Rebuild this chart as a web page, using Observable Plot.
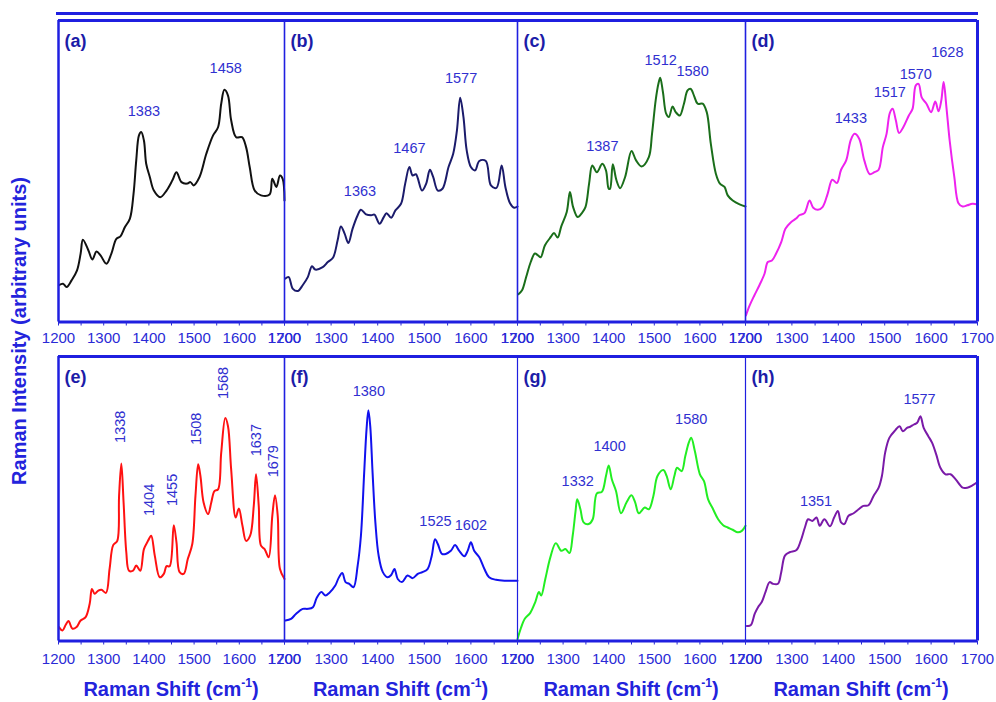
<!DOCTYPE html>
<html>
<head>
<meta charset="utf-8">
<script src="https://cdn.jsdelivr.net/npm/d3@7"></script>
<script src="https://cdn.jsdelivr.net/npm/@observablehq/plot@0.6"></script>
<style>
  body { margin: 0; background: #fff; }
  #fig { position: relative; width: 996px; height: 702px; overflow: hidden; background: #fff;
         font-family: "Liberation Sans", Arial, Helvetica, sans-serif; }
  #fig svg { position: absolute; }
  .xt { position: absolute; top: 677px; width: 240px; margin-left: -120px; text-align: center;
        font-weight: bold; font-size: 20px; line-height: 24px; color: #2323dc; white-space: nowrap; }
  .xt .sup { font-size: 12px; position: relative; top: -9px; }
  .yt { position: absolute; left: 19px; top: 331px; width: 420px; text-align: center;
        font-weight: bold; font-size: 20px; line-height: 24px; color: #2323dc; white-space: nowrap;
        transform: translate(-50%, -50%) rotate(-90deg); }
  .topline { position: absolute; left: 56px; top: 12px; width: 922px; height: 3px; background: #1f1fe0; }
</style>
</head>
<body>
<div id="fig"></div>
<script>
// ---------------- data ----------------
const panelIds = ["a", "b", "c", "d", "e", "f", "g", "h"];
const panelColors = ["#111111", "#1b1b6b", "#1a6e1a", "#ee22ee", "#ff1111", "#1111ee", "#22ee22", "#7a1aa8"];
const xTicks = [1200, 1300, 1400, 1500, 1600, 1700];

// [Raman shift (cm-1), intensity (arbitrary units)]
const spectrumA = [[1201,12.2],[1210,12.7],[1218,11.6],[1229,13.8],[1241,17.1],[1249,22.7],[1254,27.3],[1266,23.8],[1275,20.7],[1284,23.4],[1293,22.1],[1306,19.3],[1317,22.7],[1328,27.6],[1337,28.4],[1347,31.5],[1358,34.3],[1366,42.5],[1372,53.6],[1378,61.9],[1383,63.0],[1389,60.2],[1394,52.5],[1402,48.1],[1411,43.6],[1425,41.4],[1439,43.6],[1452,47.0],[1461,49.7],[1472,46.4],[1484,45.9],[1492,46.4],[1499,45.3],[1512,48.1],[1527,55.8],[1542,61.9],[1553,64.6],[1560,72.4],[1567,77.0],[1575,75.1],[1582,66.9],[1593,61.3],[1606,61.3],[1615,58.0],[1623,51.4],[1634,43.6],[1648,42.0],[1667,42.3],[1673,47.5],[1682,44.8],[1690,48.6],[1696,47.5],[1700,40.3]];
const spectrumB = [[1202,14.4],[1209,14.9],[1218,11.0],[1229,10.3],[1239,12.2],[1250,14.9],[1259,18.5],[1266,17.4],[1282,18.2],[1293,19.9],[1304,21.3],[1314,27.1],[1321,31.7],[1329,29.3],[1337,26.2],[1346,30.9],[1357,35.4],[1364,37.2],[1375,35.7],[1386,35.4],[1393,35.6],[1404,32.6],[1413,34.8],[1419,36.1],[1429,34.6],[1438,37.0],[1450,39.2],[1459,45.9],[1468,51.4],[1475,48.6],[1482,49.0],[1495,43.6],[1504,45.9],[1512,50.5],[1519,48.1],[1529,43.6],[1539,44.2],[1552,51.4],[1562,55.8],[1570,63.5],[1577,74.4],[1584,68.0],[1591,56.9],[1600,51.4],[1609,50.3],[1618,53.4],[1632,53.4],[1643,45.3],[1655,44.5],[1666,51.9],[1674,44.8],[1684,39.4],[1693,37.9],[1700,38.3]];
const spectrumC = [[1202,9.2],[1210,10.5],[1219,14.9],[1229,19.9],[1238,22.7],[1245,22.1],[1251,21.5],[1260,25.4],[1273,28.2],[1280,29.5],[1288,28.0],[1296,31.7],[1308,36.5],[1315,43.1],[1322,38.1],[1332,34.8],[1341,36.1],[1349,38.1],[1357,45.9],[1364,51.9],[1374,49.7],[1386,52.5],[1394,50.3],[1400,44.2],[1403,44.2],[1409,52.3],[1417,47.0],[1425,44.4],[1436,48.1],[1450,56.7],[1460,53.6],[1472,51.6],[1488,54.7],[1495,62.4],[1503,73.5],[1509,79.0],[1513,81.0],[1519,76.2],[1526,69.1],[1532,68.0],[1540,71.5],[1547,69.6],[1556,68.5],[1565,72.4],[1573,76.8],[1580,77.3],[1587,75.1],[1595,72.4],[1606,72.4],[1615,69.6],[1624,59.1],[1635,49.2],[1644,45.9],[1654,44.8],[1661,42.0],[1672,40.3],[1687,39.0],[1700,38.3]];
const spectrumD = [[1201,2.2],[1209,5.5],[1219,8.8],[1230,12.2],[1241,16.0],[1248,19.9],[1257,20.4],[1266,22.7],[1277,26.5],[1286,30.9],[1298,33.1],[1309,34.3],[1316,35.4],[1327,36.1],[1338,40.3],[1346,37.9],[1356,37.2],[1366,38.1],[1377,42.5],[1387,47.2],[1397,46.1],[1406,50.5],[1417,53.6],[1427,60.4],[1435,62.4],[1445,60.8],[1456,53.6],[1468,49.0],[1478,49.7],[1487,50.5],[1496,58.0],[1504,62.4],[1511,69.3],[1517,70.7],[1524,66.9],[1531,62.7],[1540,64.6],[1552,68.5],[1560,70.7],[1567,78.5],[1573,79.0],[1580,74.4],[1590,72.4],[1600,69.6],[1609,73.1],[1616,69.9],[1622,73.5],[1627,79.6],[1633,71.3],[1640,60.2],[1650,48.1],[1659,39.4],[1668,38.3],[1678,38.7],[1689,39.2],[1700,39.0]];
const spectrumE = [[1201,4.9],[1209,3.7],[1216,5.7],[1222,7.0],[1231,4.3],[1240,4.9],[1249,7.2],[1260,8.4],[1269,13.1],[1274,18.3],[1280,16.6],[1288,17.7],[1295,18.0],[1305,16.9],[1313,25.3],[1321,33.7],[1330,35.2],[1334,51.0],[1339,62.4],[1344,48.7],[1350,31.2],[1356,24.7],[1365,24.7],[1372,26.5],[1381,24.7],[1389,32.3],[1398,35.2],[1405,37.0],[1413,30.0],[1424,22.4],[1433,23.6],[1439,26.3],[1446,26.3],[1455,40.7],[1461,34.7],[1468,24.2],[1477,23.6],[1486,28.8],[1496,34.1],[1503,51.0],[1509,62.1],[1514,58.0],[1521,48.7],[1531,44.6],[1538,48.7],[1545,52.7],[1553,53.3],[1560,66.2],[1569,78.4],[1575,75.5],[1582,60.3],[1592,43.4],[1599,46.6],[1607,40.5],[1615,35.2],[1624,37.0],[1632,47.5],[1637,58.6],[1643,47.5],[1648,33.5],[1656,32.3],[1665,29.4],[1673,44.0],[1679,51.2],[1685,44.0],[1690,25.3],[1700,21.8]];
const spectrumF = [[1202,7.2],[1214,7.8],[1225,9.6],[1239,11.3],[1250,11.3],[1261,11.9],[1269,15.1],[1279,17.2],[1288,16.0],[1296,16.9],[1309,19.5],[1316,22.1],[1324,23.9],[1331,20.7],[1339,20.1],[1348,18.9],[1357,26.5],[1364,37.0],[1371,59.2],[1376,74.3],[1380,81.1],[1384,75.5],[1389,59.2],[1395,41.7],[1402,30.0],[1411,24.2],[1421,22.4],[1429,23.2],[1436,25.3],[1443,21.8],[1452,20.7],[1464,23.0],[1475,22.1],[1486,23.6],[1496,24.2],[1507,25.3],[1516,30.0],[1523,35.8],[1529,34.1],[1538,30.6],[1546,30.6],[1557,31.7],[1566,33.7],[1575,31.7],[1586,29.8],[1593,31.7],[1600,34.7],[1607,31.7],[1618,29.4],[1629,25.3],[1639,22.4],[1654,21.5],[1675,21.2],[1700,21.2]];
const spectrumG = [[1200,0.6],[1207,4.3],[1216,7.8],[1228,9.9],[1239,13.7],[1247,17.2],[1252,16.0],[1261,21.8],[1272,29.4],[1284,34.4],[1296,31.7],[1305,32.3],[1314,30.9],[1321,37.0],[1327,45.2],[1331,49.8],[1338,46.3],[1345,41.7],[1356,41.1],[1365,42.8],[1374,51.9],[1385,52.4],[1394,58.0],[1400,61.7],[1407,56.8],[1416,52.7],[1427,44.9],[1439,48.7],[1450,51.2],[1458,48.7],[1466,44.9],[1479,46.9],[1488,46.3],[1498,51.0],[1507,58.0],[1520,60.1],[1527,58.0],[1536,53.3],[1544,58.0],[1550,60.9],[1560,59.7],[1568,65.0],[1576,69.9],[1581,71.4],[1589,66.7],[1600,58.6],[1609,56.2],[1618,49.8],[1629,46.3],[1640,42.8],[1651,40.7],[1661,39.9],[1672,39.1],[1683,38.2],[1692,38.7],[1700,40.5]];
const spectrumH = [[1203,5.3],[1211,5.5],[1220,9.6],[1227,11.9],[1235,13.7],[1243,17.2],[1252,20.7],[1259,20.1],[1270,20.1],[1277,24.2],[1285,30.0],[1295,31.2],[1310,32.0],[1319,35.2],[1328,39.9],[1335,42.8],[1344,42.2],[1353,43.4],[1360,40.5],[1370,42.8],[1382,40.3],[1391,43.4],[1399,45.7],[1406,41.7],[1413,41.1],[1422,44.0],[1433,44.9],[1444,46.3],[1454,47.5],[1465,47.7],[1476,51.0],[1487,53.9],[1494,58.0],[1501,66.2],[1510,71.4],[1523,74.1],[1532,75.5],[1539,73.7],[1548,74.9],[1555,75.3],[1563,76.1],[1570,76.7],[1577,79.0],[1584,74.9],[1594,72.0],[1602,69.7],[1611,65.6],[1620,60.9],[1631,58.6],[1642,58.6],[1653,56.8],[1668,53.9],[1678,53.9],[1689,54.7],[1700,55.9]];

// peak annotations: [label, shift, intensity]
const peaksA = [["1383",1389,70.0],["1458",1570,84.2]];
const peaksB = [["1363",1362,43.3],["1467",1468,57.5],["1577",1579,80.7]];
const peaksC = [["1387",1386,58.2],["1512",1514,86.7],["1580",1584,83.2]];
const peaksD = [["1433",1427,67.4],["1517",1511,76.2],["1570",1567,82.3],["1628",1635,89.3]];
const peaksE = [["1338",1337,75.3],["1404",1402,49.6],["1455",1453,53.1],["1508",1506,74.6],["1568",1564,90.7],["1637",1637,70.6],["1679",1676,63.2]];
const peaksF = [["1380",1381,87.7],["1525",1524,41.9],["1602",1600,40.7]];
const peaksG = [["1332",1332,56.2],["1400",1402,68.3],["1580",1581,77.8]];
const peaksH = [["1351",1352,49.2],["1577",1575,85.1]];

const spectra = [spectrumA, spectrumB, spectrumC, spectrumD, spectrumE, spectrumF, spectrumG, spectrumH];
const peaks = [peaksA, peaksB, peaksC, peaksD, peaksE, peaksF, peaksG, peaksH];

// ---------------- layout ----------------
const FONT = '"Liberation Sans", Arial, Helvetica, sans-serif';
const FRAME = "#1f1fe0";
const TICKC = "#2a2ad6";
const PEAKC = "#3030d0";
const LETTERC = "#1c1ca8";
const colLeft = [58, 284, 517, 745];
const colRight = [284, 517, 745, 977];
const rows = [{top: 20, bottom: 321.5, pad: 6}, {top: 356, bottom: 640.5, pad: 8}];
const M = 28, MT = 3, MB = 34;

const fig = document.getElementById("fig");
const tl = document.createElement("div"); tl.className = "topline"; fig.appendChild(tl);

panelIds.forEach((id, i) => {
  const r = Math.floor(i / 4), c = i % 4;
  const L = colLeft[c], R = colRight[c], row = rows[r];
  const w = R - L, h = row.bottom - row.top;
  const rotated = (id === "e");
  const marks = [
    Plot.line(spectra[i], {x: d => d[0], y: d => d[1], stroke: panelColors[i], strokeWidth: 2, curve: "catmull-rom"}),
    Plot.text(peaks[i], {x: d => d[1], y: d => d[2], text: d => d[0], fill: PEAKC, fontSize: 14.5,
      rotate: rotated ? -90 : 0, textAnchor: "middle", lineAnchor: "middle"}),
    Plot.text([`(${id})`], {frameAnchor: "top-left", dx: 6, dy: 14, textAnchor: "start", lineAnchor: "top",
      fontWeight: "bold", fontSize: 18, fill: LETTERC}),
    Plot.ruleY([100], {stroke: FRAME, strokeWidth: 3}),
    Plot.ruleY([0], {stroke: FRAME, strokeWidth: 3}),
    Plot.ruleX([1200], {stroke: FRAME, strokeWidth: c === 0 ? 2.5 : (r === 1 && c > 1 ? 1.2 : 1.6)}),
    Plot.axisX({ticks: d3.range(1200, 1701, 50), tickFormat: d => xTicks.includes(d) ? String(d) : "",
      tickSize: 4, tickPadding: row.pad, fontSize: 15, color: TICKC, label: null})
  ];
  if (c === 3) marks.push(Plot.ruleX([1700], {stroke: FRAME, strokeWidth: 3}));
  const chart = Plot.plot({
    width: w + 2 * M, height: h + MT + MB,
    marginLeft: M, marginRight: M, marginTop: MT, marginBottom: MB,
    x: {domain: [1200, 1700]},
    y: {domain: [0, 100], axis: null},
    style: {background: "transparent", fontFamily: FONT, overflow: "visible"},
    marks
  });
  chart.style.left = (L - M) + "px";
  chart.style.top = (row.top - MT) + "px";
  fig.appendChild(chart);
});

// axis titles
for (let c = 0; c < 4; c++) {
  const d = document.createElement("div");
  d.className = "xt";
  d.style.left = ((colLeft[c] + colRight[c]) / 2) + "px";
  d.innerHTML = 'Raman Shift (cm<span class="sup">-1</span>)';
  fig.appendChild(d);
}
const yt = document.createElement("div");
yt.className = "yt";
yt.textContent = "Raman Intensity (arbitrary units)";
fig.appendChild(yt);
</script>
</body>
</html>
